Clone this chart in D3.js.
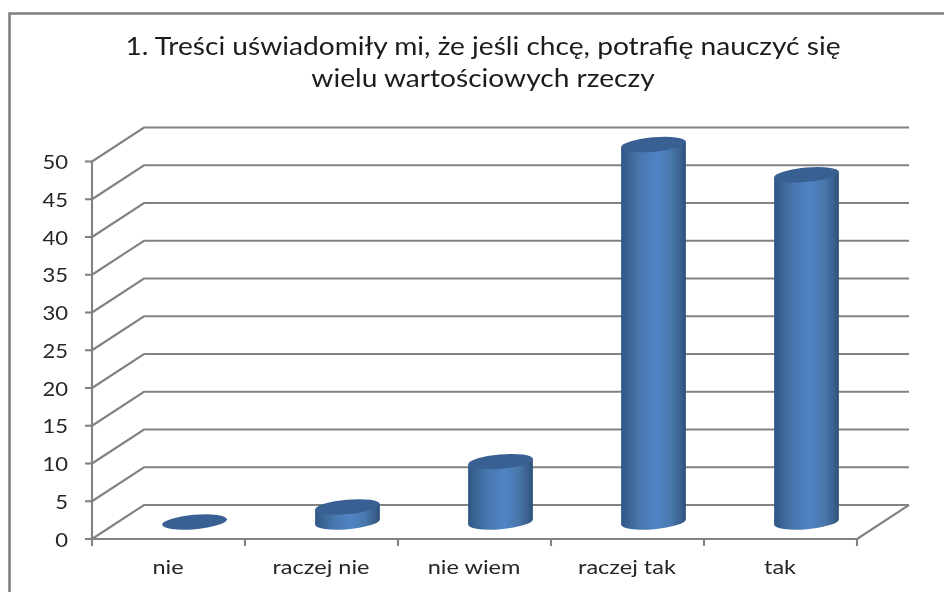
<!DOCTYPE html>
<html><head><meta charset="utf-8">
<script src="https://cdn.jsdelivr.net/npm/d3@7/dist/d3.min.js"></script>
<style>html,body{margin:0;padding:0;background:#fff}svg{display:block}</style>
</head><body><svg id="c" width="944" height="592"></svg>
<script>
const categories = ["nie","raczej nie","nie wiem","raczej tak","tak"];
const values = [0,2,8,50,46];
const yTicks = d3.range(0,55,5);
const titleLines = ["1. Treści uświadomiły mi, że jeśli chcę, potrafię nauczyć się","wielu wartościowych rzeczy"];

const W=944,H=592, dx=52, dy=-34, font="Lato,sans-serif";
const svg=d3.select("#c");
const defs=svg.append("defs");
const g=defs.append("linearGradient").attr("id","cyl");
[[0,"#2f5685"],[.12,"#3a6595"],[.3,"#4877b0"],[.55,"#5084c6"],[.78,"#4877ab"],[.92,"#3a618f"],[1,"#2f5078"]].forEach(s=>g.append("stop").attr("offset",s[0]).attr("stop-color",s[1]));
defs.append("filter").attr("id","soft").attr("x","-5%").attr("y","-5%").attr("width","110%").attr("height","110%")
  .append("feGaussianBlur").attr("stdDeviation",0.55);
const root=svg.append("g").attr("filter","url(#soft)");
root.append("rect").attr("width",W).attr("height",H).attr("fill","#fff");
root.append("path").attr("d","M9.5,600V13.5H950").attr("fill","none").attr("stroke","#7f7f7f").attr("stroke-width",2.6);

const x=d3.scaleBand().domain(categories).range([92,857]);
const y=d3.scaleLinear().domain([0,50]).range([539,161.5]);
const line="#828282";

root.append("g").selectAll("path").data(yTicks).join("path")
 .attr("d",t=>`M92,${y(t)}L${92+dx},${y(t)+dy}H${857+dx}`)
 .attr("fill","none").attr("stroke",line).attr("stroke-width",2.1);
root.append("path").attr("d",`M857,539L${857+dx},${539+dy}`).attr("fill","none").attr("stroke",line).attr("stroke-width",2.1);

const ax=root.append("g").attr("stroke",line).attr("stroke-width",2.1);
ax.append("line").attr("x1",92).attr("x2",92).attr("y1",y(50)).attr("y2",539);
ax.append("line").attr("x1",85).attr("x2",857).attr("y1",539).attr("y2",539);
ax.selectAll(".yt").data(yTicks).join("line").attr("class","yt").attr("x1",85).attr("x2",92).attr("y1",t=>y(t)).attr("y2",t=>y(t));
ax.selectAll(".xt").data(x.domain().map(d=>x(d)).concat(857)).join("line").attr("class","xt").attr("x1",d=>d).attr("x2",d=>d).attr("y1",539).attr("y2",546);

const txt=(sel,size,col)=>sel.attr("font-family",font).attr("font-size",size).attr("fill",col).attr("text-anchor","middle");
txt(root.append("g").selectAll("text").data(yTicks).join("text"),19.5,"#262626")
 .attr("text-anchor","end").attr("transform",t=>`translate(68,${y(t)+7.5}) scale(1.13,1)`).text(t=>t);
txt(root.append("g").selectAll("text").data(categories).join("text"),19,"#262626")
 .attr("transform",d=>`translate(${x(d)+x.bandwidth()/2-0.5},574) scale(1.24,1)`).text(d=>d);
txt(root.append("g").selectAll("text").data(titleLines).join("text"),25,"#1a1a1a")
 .attr("transform",(d,i)=>`translate(483,${55+i*32}) scale(1.125,1)`).text(d=>d);

const rx=32.5, ry=7.2, tilt=-5, base=y(0)+dy/2;
const bars=root.append("g").selectAll("g").data(categories.map((c,i)=>({c,v:values[i]}))).join("g")
 .attr("transform",d=>`translate(${x(d.c)+x.bandwidth()/2+dx/2},0)`);
const tx=Math.cos(tilt*Math.PI/180)*rx, ty=Math.sin(tilt*Math.PI/180)*rx;
bars.filter(d=>d.v>0).append("path").attr("fill","url(#cyl)")
 .attr("d",d=>{const top=base-(y(0)-y(d.v));
   return `M${-tx},${top-ty}L${tx},${top+ty}L${tx},${base+ty}A${rx},${ry} ${tilt} 0 1 ${-tx},${base-ty}Z`;});
bars.append("ellipse").attr("rx",rx).attr("ry",ry).attr("fill","#376092")
 .attr("transform",d=>`translate(0,${base-(y(0)-y(d.v))}) rotate(${tilt})`);
</script></body></html>
